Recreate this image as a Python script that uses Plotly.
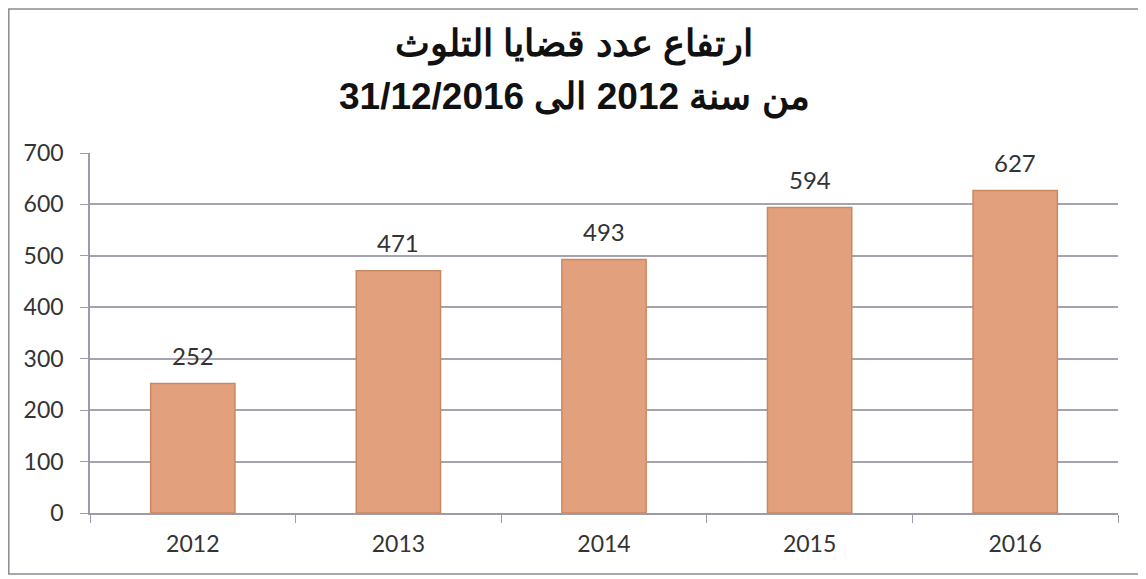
import plotly.graph_objects as go

years = ["2012", "2013", "2014", "2015", "2016"]
cases = [252, 471, 493, 594, 627]
y_ticks = [0, 100, 200, 300, 400, 500, 600, 700]
title_line1 = "ارتفاع عدد قضايا التلوث"
title_line2 = "من سنة 2012 الى 31/12/2016"

# page has an 8px body margin; figure is sized/offset to compensate
W, H = 1138, 571
L, R, T, B = 82, 28, 145, 66
PH = H - T - B  # plot height in px
PW = W - L - R
bottom = T + PH

def py(fig_y):
    return (bottom - fig_y) / PH

def px(fig_x):
    return (fig_x - L) / PW

tick_font = dict(family="Lato, Open Sans, sans-serif", size=23, color="#333333")
label_font = dict(family="Lato, Open Sans, sans-serif", size=24, color="#333333")

fig = go.Figure()
fig.add_trace(go.Bar(
    x=years, y=cases, width=0.41,
    marker=dict(color="#E3A07D", line=dict(color="#C98862", width=1.5)),
))

annotations = [
    dict(text="<b>" + title_line1 + "</b>", xref="paper", yref="paper",
         x=px(566), y=py(37), showarrow=False, yanchor="middle",
         font=dict(family="Liberation Sans, Arial", size=37, color="#111111")),
    dict(text="<b>" + title_line2 + "</b>", xref="paper", yref="paper",
         x=px(566), y=py(89), showarrow=False, yanchor="middle",
         font=dict(family="Liberation Sans, Arial", size=37, color="#111111")),
]
for i, v in enumerate(cases):
    annotations.append(dict(x=i, y=v, xref="x", yref="y", text=str(v),
                            showarrow=False, yanchor="middle", yshift=28,
                            font=label_font))

fig.update_layout(
    width=W, height=H,
    margin=dict(l=L, r=R, t=T, b=B),
    paper_bgcolor="white", plot_bgcolor="white",
    showlegend=False,
    annotations=annotations,
    shapes=[dict(type="rect", xref="paper", yref="paper",
                 x0=px(0.8), x1=px(1132),
                 y0=py(566), y1=py(1),
                 line=dict(color="#8A8A94", width=1.5))],
)
fig.update_xaxes(
    type="category", range=[-0.5, len(years) - 0.5],
    tickson="boundaries", ticks="outside", ticklen=8,
    tickcolor="#9C9CA8", showline=True, linecolor="#9C9CA8", linewidth=1.5,
    tickfont=tick_font, showgrid=False, ticklabelstandoff=10, tickangle=0,
)
fig.update_yaxes(
    range=[0, 700], tickvals=y_ticks, ticks="outside", ticklen=8,
    tickcolor="#9C9CA8", showline=True, linecolor="#9C9CA8", linewidth=1.5,
    gridcolor="#A4A4B0", gridwidth=1.5, zeroline=False,
    tickfont=tick_font, ticklabelstandoff=12,
)
fig.write_html("out.html")
